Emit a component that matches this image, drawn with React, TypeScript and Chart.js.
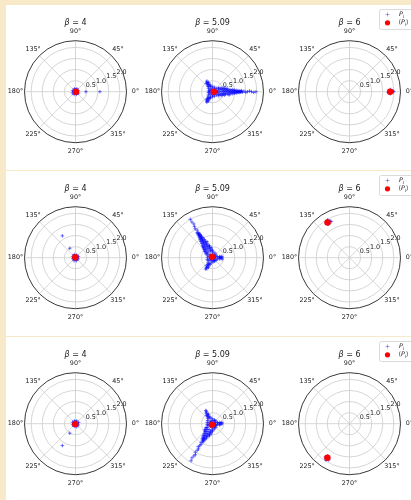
import React, { useEffect, useRef } from 'react';
import { Chart, registerables } from 'chart.js';

Chart.register(...registerables);

// ---------- data (angle in degrees, magnitude) ----------
const BETAS = ['4', '5.09', '6'];
const R_MAX = 2.3;
const R_TICKS = [0.5, 1.0, 1.5, 2.0];
const THETA_TICKS = [0, 45, 90, 135, 180, 225, 270, 315];
const LEGEND_LABELS = ['P', '⟨P'];

// Row 1
const P_R1_B4 = [
  [0, 0.06], [45, 0.08], [90, 0.07], [135, 0.09], [180, 0.06], [225, 0.08], [270, 0.07], [315, 0.09],
  [20, 0.13], [65, 0.15], [110, 0.14], [155, 0.13], [200, 0.15], [245, 0.14], [290, 0.13], [335, 0.15],
  [0, 0.47], [0, 1.1],
];
const M_R1_B4 = [[0, 0.02]];

const P_R1_B509 = [
  [0, 0.08], [62, 0.07], [118, 0.09], [178, 0.08], [242, 0.07], [300, 0.09],
  [20, 0.16], [55, 0.15], [92, 0.17], [128, 0.16], [160, 0.14], [200, 0.15], [232, 0.17], [268, 0.16], [305, 0.15], [340, 0.17],
  [10, 0.24], [40, 0.23], [68, 0.22], [95, 0.25], [112, 0.26], [140, 0.24], [168, 0.18], [192, 0.19], [218, 0.24], [250, 0.26], [270, 0.23], [292, 0.22], [320, 0.24], [350, 0.23],
  [120, 0.3], [110, 0.32], [130, 0.31], [116, 0.37], [125, 0.38], [120, 0.43], [113, 0.45], [127, 0.46], [121, 0.5], [118, 0.54],
  [240, 0.3], [250, 0.31], [230, 0.32], [244, 0.37], [235, 0.38], [240, 0.43], [247, 0.45], [233, 0.46], [239, 0.5], [242, 0.54],
  [25, 0.3], [0, 0.3], [335, 0.3], [15, 0.35], [345, 0.35], [32, 0.34], [328, 0.34],
  [0, 0.4], [20, 0.4], [340, 0.4], [10, 0.45], [350, 0.45], [22, 0.46], [338, 0.46],
  [0, 0.5], [14, 0.5], [346, 0.5], [7, 0.55], [353, 0.55], [16, 0.56], [344, 0.56],
  [0, 0.6], [11, 0.6], [349, 0.6], [5, 0.65], [355, 0.65], [12, 0.66],
  [0, 0.7], [9, 0.7], [351, 0.7], [4, 0.75], [356, 0.75], [349, 0.76],
  [0, 0.8], [7, 0.8], [353, 0.8], [3, 0.85], [357, 0.85],
  [0, 0.9], [6, 0.9], [354, 0.9], [3, 0.95], [357, 0.95],
  [0, 1.0], [4, 1.0], [356, 1.0], [2, 1.05], [358, 1.05],
  [0, 1.1], [3, 1.1], [357, 1.1], [1, 1.15], [359, 1.15],
  [0, 1.2], [2, 1.2], [358, 1.2], [1, 1.25], [359, 1.26], [0, 1.3], [2, 1.31], [359, 1.35],
  [1, 1.42], [359, 1.5], [0, 1.58], [1, 1.67], [0, 1.76], [359, 1.86], [0, 1.96],
];
const M_R1_B509 = [[0, 0.06]];

const P_R1_B6 = [
  [0, 1.78], [2, 1.82], [358, 1.85], [1, 1.88], [359, 1.8], [0, 1.92], [1, 1.96], [359, 1.75], [3, 1.86], [357, 1.84], [0, 1.99],
];
const M_R1_B6 = [[0, 1.83]];

// Row 2
const P_R2_B4 = [
  [0, 0.06], [45, 0.08], [90, 0.07], [135, 0.09], [180, 0.06], [225, 0.08], [270, 0.07], [315, 0.09],
  [20, 0.14], [65, 0.13], [110, 0.15], [155, 0.14], [200, 0.13], [245, 0.15], [290, 0.14], [335, 0.13],
  [121, 0.5], [121, 1.15],
];
const M_R2_B4 = [[120, 0.02]];

const P_R2_B509 = [
  [5, 0.08], [64, 0.09], [122, 0.07], [180, 0.08], [238, 0.09], [302, 0.07],
  [18, 0.15], [52, 0.16], [88, 0.15], [124, 0.17], [158, 0.16], [196, 0.15], [228, 0.16], [264, 0.14], [298, 0.15], [336, 0.16],
  [12, 0.22], [36, 0.2], [62, 0.24], [84, 0.25], [150, 0.24], [174, 0.23], [198, 0.25], [214, 0.24], [256, 0.24], [280, 0.19], [300, 0.18], [322, 0.2], [346, 0.22],
  [0, 0.3], [10, 0.32], [350, 0.31], [5, 0.37], [355, 0.38], [0, 0.43], [8, 0.42], [352, 0.44],
  [240, 0.3], [230, 0.31], [250, 0.32], [236, 0.37], [245, 0.38], [240, 0.44], [233, 0.46], [247, 0.47], [239, 0.52], [243, 0.56], [238, 0.6],
  [145, 0.3], [120, 0.3], [95, 0.3], [135, 0.35], [105, 0.35], [150, 0.34], [90, 0.34],
  [120, 0.4], [140, 0.4], [100, 0.4], [130, 0.45], [110, 0.45], [142, 0.46], [98, 0.46],
  [120, 0.5], [134, 0.5], [106, 0.5], [127, 0.55], [113, 0.55], [136, 0.56], [104, 0.56],
  [120, 0.6], [131, 0.6], [109, 0.6], [125, 0.65], [115, 0.65], [132, 0.66],
  [120, 0.7], [129, 0.7], [111, 0.7], [124, 0.75], [116, 0.75], [109, 0.76],
  [120, 0.8], [127, 0.8], [113, 0.8], [123, 0.85], [117, 0.85],
  [120, 0.9], [126, 0.9], [114, 0.9], [123, 0.95], [117, 0.95],
  [120, 1.0], [124, 1.0], [116, 1.0], [122, 1.05], [118, 1.05],
  [120, 1.1], [123, 1.1], [117, 1.1], [121, 1.15], [119, 1.15],
  [120, 1.2], [122, 1.2], [118, 1.2], [121, 1.25], [119, 1.26], [120, 1.3], [122, 1.32],
  [119, 1.42], [121, 1.52], [120, 1.63], [119, 1.74], [120, 1.86], [120, 2.0],
];
const M_R2_B509 = [[120, 0.05]];

const P_R2_B6 = [
  [120, 1.8], [122, 1.85], [124, 1.9], [121, 1.93], [119, 1.86], [123, 1.82], [118, 1.88], [120, 1.97], [122, 1.78], [117, 1.83],
];
const M_R2_B6 = [[122, 1.87]];

// Row 3
const P_R3_B4 = [
  [0, 0.06], [45, 0.08], [90, 0.07], [135, 0.09], [180, 0.06], [225, 0.08], [270, 0.07], [315, 0.09],
  [20, 0.15], [65, 0.14], [110, 0.13], [155, 0.15], [200, 0.14], [245, 0.13], [290, 0.15], [335, 0.14],
  [239, 0.5], [239, 1.15],
];
const M_R3_B4 = [[240, 0.02]];

const P_R3_B509 = [
  [2, 0.07], [58, 0.08], [121, 0.09], [184, 0.07], [240, 0.08], [296, 0.09],
  [22, 0.15], [58, 0.17], [94, 0.16], [130, 0.15], [164, 0.16], [198, 0.17], [230, 0.15], [262, 0.16], [300, 0.17], [334, 0.15],
  [14, 0.23], [38, 0.2], [66, 0.19], [96, 0.24], [146, 0.26], [166, 0.25], [188, 0.24], [200, 0.22], [274, 0.24], [290, 0.25], [312, 0.22], [338, 0.19], [352, 0.22],
  [0, 0.3], [10, 0.31], [350, 0.32], [5, 0.37], [355, 0.38], [0, 0.43], [8, 0.42],
  [120, 0.3], [110, 0.31], [130, 0.32], [116, 0.37], [125, 0.38], [120, 0.44], [113, 0.46], [126, 0.47], [118, 0.52], [121, 0.57], [116, 0.62], [117, 0.67],
  [265, 0.3], [240, 0.3], [215, 0.3], [255, 0.35], [225, 0.35], [270, 0.34], [210, 0.34],
  [240, 0.4], [260, 0.4], [220, 0.4], [250, 0.45], [230, 0.45], [262, 0.46], [218, 0.46],
  [240, 0.5], [254, 0.5], [226, 0.5], [247, 0.55], [233, 0.55], [256, 0.56],
  [240, 0.6], [250, 0.6], [230, 0.6], [245, 0.65], [235, 0.65],
  [240, 0.7], [248, 0.7], [232, 0.7], [243, 0.75], [237, 0.75],
  [240, 0.8], [245, 0.8], [235, 0.8], [242, 0.85], [238, 0.86], [240, 0.9], [243, 0.92],
  [239, 1.0], [241, 1.07], [240, 1.15], [238, 1.22], [241, 1.3], [240, 1.38], [239, 1.5], [241, 1.6], [240, 1.68], [239, 1.8], [240, 1.93],
];
const M_R3_B509 = [[240, 0.05]];

const P_R3_B6 = [
  [237, 1.78], [235, 1.83], [239, 1.86], [236, 1.9], [238, 1.8], [234, 1.85], [240, 1.88], [237, 1.95], [236, 1.75], [239, 1.82],
];
const M_R3_B6 = [[237, 1.83]];

const ROWS = [
  [[P_R1_B4, M_R1_B4], [P_R1_B509, M_R1_B509], [P_R1_B6, M_R1_B6]],
  [[P_R2_B4, M_R2_B4], [P_R2_B509, M_R2_B509], [P_R2_B6, M_R2_B6]],
  [[P_R3_B4, M_R3_B4], [P_R3_B509, M_R3_B509], [P_R3_B6, M_R3_B6]],
];

// ---------- layout / style ----------
const CREAM = '#f8e9c8';
const ROW_TOPS = [5, 171, 337];
const COL_LEFTS = [1, 138, 275];
const CW = 137;
const CH = 165;
const RADIUS_PX = 51;
const CENTER_Y = 86.7;
const FONT = '"DejaVu Sans", sans-serif';
const BLUE = 'rgba(0,0,255,0.55)';

const toXY = (pts: number[][]) =>
  pts.map(([t, r]) => ({ x: r * Math.cos((t * Math.PI) / 180), y: r * Math.sin((t * Math.PI) / 180) }));

function drawMixed(ctx: CanvasRenderingContext2D, parts: [string, string][], x: number, y: number, align: 'center' | 'left') {
  let total = 0;
  for (const [txt, f] of parts) { ctx.font = f; total += ctx.measureText(txt).width; }
  let cx = align === 'center' ? x - total / 2 : x;
  ctx.textAlign = 'left';
  for (const [txt, f] of parts) { ctx.font = f; ctx.fillText(txt, cx, y); cx += ctx.measureText(txt).width; }
}

function makePolarPlugin(beta: string, showLegend: boolean) {
  return {
    id: 'polarGrid',
    beforeDatasetsDraw(chart: any) {
      const ctx: CanvasRenderingContext2D = chart.ctx;
      const xs = chart.scales.x;
      const ys = chart.scales.y;
      const cx = xs.getPixelForValue(0);
      const cy = ys.getPixelForValue(0);
      const rp = (r: number) => xs.getPixelForValue(r) - cx;
      const outer = rp(R_MAX);
      ctx.save();
      ctx.strokeStyle = '#cccccc';
      ctx.lineWidth = 0.8;
      for (const r of R_TICKS) {
        ctx.beginPath(); ctx.arc(cx, cy, rp(r), 0, Math.PI * 2); ctx.stroke();
      }
      for (const t of THETA_TICKS) {
        const a = (t * Math.PI) / 180;
        ctx.beginPath(); ctx.moveTo(cx, cy); ctx.lineTo(cx + outer * Math.cos(a), cy - outer * Math.sin(a)); ctx.stroke();
      }
      ctx.strokeStyle = '#222';
      ctx.lineWidth = 0.9;
      ctx.beginPath(); ctx.arc(cx, cy, outer, 0, Math.PI * 2); ctx.stroke();

      ctx.fillStyle = '#1a1a1a';
      ctx.font = `6.4px ${FONT}`;
      ctx.textAlign = 'center';
      ctx.textBaseline = 'middle';
      for (const t of THETA_TICKS) {
        const a = (t * Math.PI) / 180;
        ctx.fillText(`${t}°`, cx + (outer + 9) * Math.cos(a), cy - (outer + 9) * Math.sin(a));
      }
      ctx.textAlign = 'left';
      ctx.textBaseline = 'bottom';
      const la = (22.5 * Math.PI) / 180;
      for (const r of R_TICKS) {
        ctx.fillText(r.toFixed(1), cx + rp(r) * Math.cos(la), cy - rp(r) * Math.sin(la) + 1);
      }
      ctx.textBaseline = 'middle';
      drawMixed(ctx, [['β', `italic 8px ${FONT}`], [` = ${beta}`, `8px ${FONT}`]], cx, cy - 68.4, 'center');
      ctx.restore();
    },
    afterDraw(chart: any) {
      if (!showLegend) return;
      const ctx: CanvasRenderingContext2D = chart.ctx;
      ctx.save();
      const bx = 98.5, by = 4.5, bw = 45, bh = 20;
      ctx.fillStyle = 'rgba(255,255,255,0.85)';
      ctx.strokeStyle = '#d0d0d0';
      ctx.lineWidth = 0.8;
      ctx.beginPath();
      (ctx as any).roundRect(bx, by, bw, bh, 2);
      ctx.fill(); ctx.stroke();
      ctx.strokeStyle = 'rgba(0,0,255,0.35)';
      ctx.lineWidth = 1;
      const mx = 106.5, my1 = 9.5, my2 = 17.8;
      ctx.beginPath(); ctx.moveTo(mx - 2, my1); ctx.lineTo(mx + 2, my1); ctx.moveTo(mx, my1 - 2); ctx.lineTo(mx, my1 + 2); ctx.stroke();
      ctx.fillStyle = '#ff0000';
      ctx.beginPath(); ctx.arc(mx, my2, 2.6, 0, Math.PI * 2); ctx.fill();
      ctx.fillStyle = '#222';
      ctx.textBaseline = 'middle';
      const tx = 117.5;
      drawMixed(ctx, [[LEGEND_LABELS[0], `italic 6.3px ${FONT}`]], tx + 0.5, my1, 'left');
      ctx.font = `italic 6.3px ${FONT}`;
      const pw = ctx.measureText('P').width;
      ctx.font = `4.4px ${FONT}`;
      ctx.fillText('i', tx + 0.5 + pw, my1 + 2);
      ctx.font = `6.3px ${FONT}`;
      ctx.fillText('⟨', tx, my2);
      const lw = ctx.measureText('⟨').width;
      ctx.font = `italic 6.3px ${FONT}`;
      ctx.fillText('P', tx + lw, my2);
      ctx.font = `4.4px ${FONT}`;
      ctx.fillText('i', tx + lw + pw, my2 + 2);
      const iw = ctx.measureText('i').width;
      ctx.font = `6.3px ${FONT}`;
      ctx.fillText('⟩', tx + lw + pw + iw, my2);
      ctx.restore();
    },
  };
}

function PolarPanel({ pts, mean, beta, left, legend }: { pts: number[][]; mean: number[][]; beta: string; left: number; legend: boolean }) {
  const ref = useRef<HTMLCanvasElement | null>(null);
  useEffect(() => {
    if (!ref.current) return;
    const padX = CW / 2 - RADIUS_PX;
    const chart = new Chart(ref.current, {
      type: 'scatter',
      data: {
        datasets: [
          {
            label: 'mean',
            data: toXY(mean),
            pointStyle: 'circle',
            pointRadius: 3.2,
            backgroundColor: '#ff0000',
            borderColor: '#ff0000',
            borderWidth: 0,
            order: 0,
          },
          {
            label: 'P_i',
            data: toXY(pts),
            pointStyle: 'cross',
            pointRadius: 1.8,
            borderColor: BLUE,
            backgroundColor: BLUE,
            borderWidth: 1,
            order: 1,
          },
        ],
      },
      options: {
        animation: false,
        responsive: false,
        devicePixelRatio: 1,
        events: [],
        layout: { padding: { left: padX, right: padX, top: CENTER_Y - RADIUS_PX, bottom: CH - CENTER_Y - RADIUS_PX } },
        scales: {
          x: { type: 'linear', display: false, min: -R_MAX, max: R_MAX },
          y: { type: 'linear', display: false, min: -R_MAX, max: R_MAX },
        },
        plugins: { legend: { display: false }, tooltip: { enabled: false }, title: { display: false } },
      },
      plugins: [makePolarPlugin(beta, legend)],
    } as any);
    return () => chart.destroy();
  }, [pts, mean, beta, legend]);
  return (
    <canvas
      ref={ref}
      width={CW}
      height={CH}
      style={{ position: 'absolute', left, top: 0, width: CW, height: CH }}
    />
  );
}

export default function App() {
  return (
    <div style={{ position: 'fixed', left: 0, top: 0, width: 411, height: 500, background: CREAM, overflow: 'hidden' }}>
      {ROWS.map((row, j) => (
        <div
          key={j}
          style={{ position: 'absolute', left: 6, top: ROW_TOPS[j], width: 420, height: CH, background: '#ffffff', overflow: 'hidden' }}
        >
          {row.map(([pts, mean], k) => (
            <PolarPanel key={k} pts={pts} mean={mean} beta={BETAS[k]} left={COL_LEFTS[k]} legend={k === 2} />
          ))}
        </div>
      ))}
    </div>
  );
}
